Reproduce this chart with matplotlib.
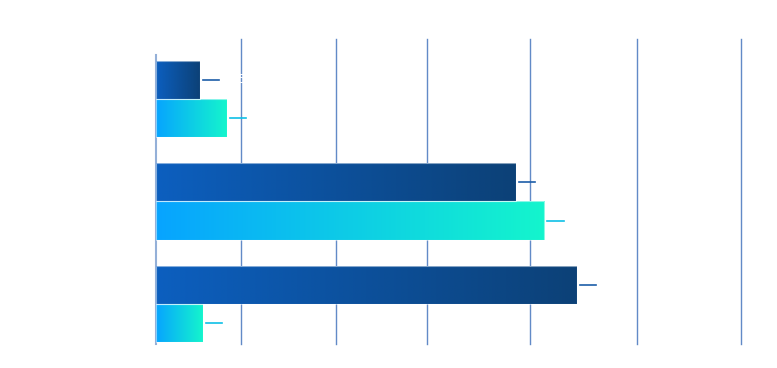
import numpy as np
import matplotlib.pyplot as plt
from matplotlib.colors import LinearSegmentedColormap

categories = ["A", "B", "C"]
series_dark = [7.5, 61.5, 71.9]
series_light = [12.1, 66.4, 8.0]
grid_ticks = [14.5, 30.8, 46.3, 63.9, 82.2, 100]

DARK_CMAP = LinearSegmentedColormap.from_list("dark", ["#0c5fbf", "#0c4177"])
LIGHT_CMAP = LinearSegmentedColormap.from_list("light", ["#07a4ff", "#14f5cd"])
DARK_LEADER = "#1d5ea8"
LIGHT_LEADER = "#0ec0e6"
GRID = "#4676bd"

fig = plt.figure(figsize=(7.77, 3.68), dpi=100)
ax = fig.add_axes([156 / 777, 24 / 368, 585 / 777, 305 / 368])
ax.set_xlim(0, 100)
ax.set_ylim(2.39, -0.585)
ax.axis("off")

# grid lines and the category axis line
for x in grid_ticks:
    ax.axvline(x, color=GRID, linewidth=1, alpha=0.85, zorder=0, clip_on=False)
ax.axvline(0, ymin=0, ymax=1 - 16 / 305, color="#94b0d8", linewidth=1.5,
           zorder=0, clip_on=False)

h = 0.371
grad = np.linspace(0, 1, 256).reshape(1, -1)


def gradient_bar(y, w, cmap):
    bar = ax.barh(y, w, height=h, color="none", edgecolor=(1, 1, 1, 0.5),
                  linewidth=0.8, zorder=3)[0]
    img = ax.imshow(grad, cmap=cmap, aspect="auto", zorder=2,
                    extent=(0, w, y + h / 2, y - h / 2), interpolation="bilinear")
    img.set_clip_path(bar)


for i, (d, l) in enumerate(zip(series_dark, series_light)):
    for val, off, cmap, lc in [(d, -h / 2, DARK_CMAP, DARK_LEADER),
                               (l, h / 2, LIGHT_CMAP, LIGHT_LEADER)]:
        y = i + off
        gradient_bar(y, val, cmap)
        ax.plot([val + 0.5, val + 3.3], [y, y], color=lc, linewidth=1.2, zorder=3)
        # value labels are white in the original
        ax.text(val + 4.5, y, f"{val:g}", color="white", va="center", fontsize=9)

ax.set_xlim(0, 100)
ax.set_ylim(2.39, -0.585)
fig.savefig("out.png", dpi=100, facecolor="white")
